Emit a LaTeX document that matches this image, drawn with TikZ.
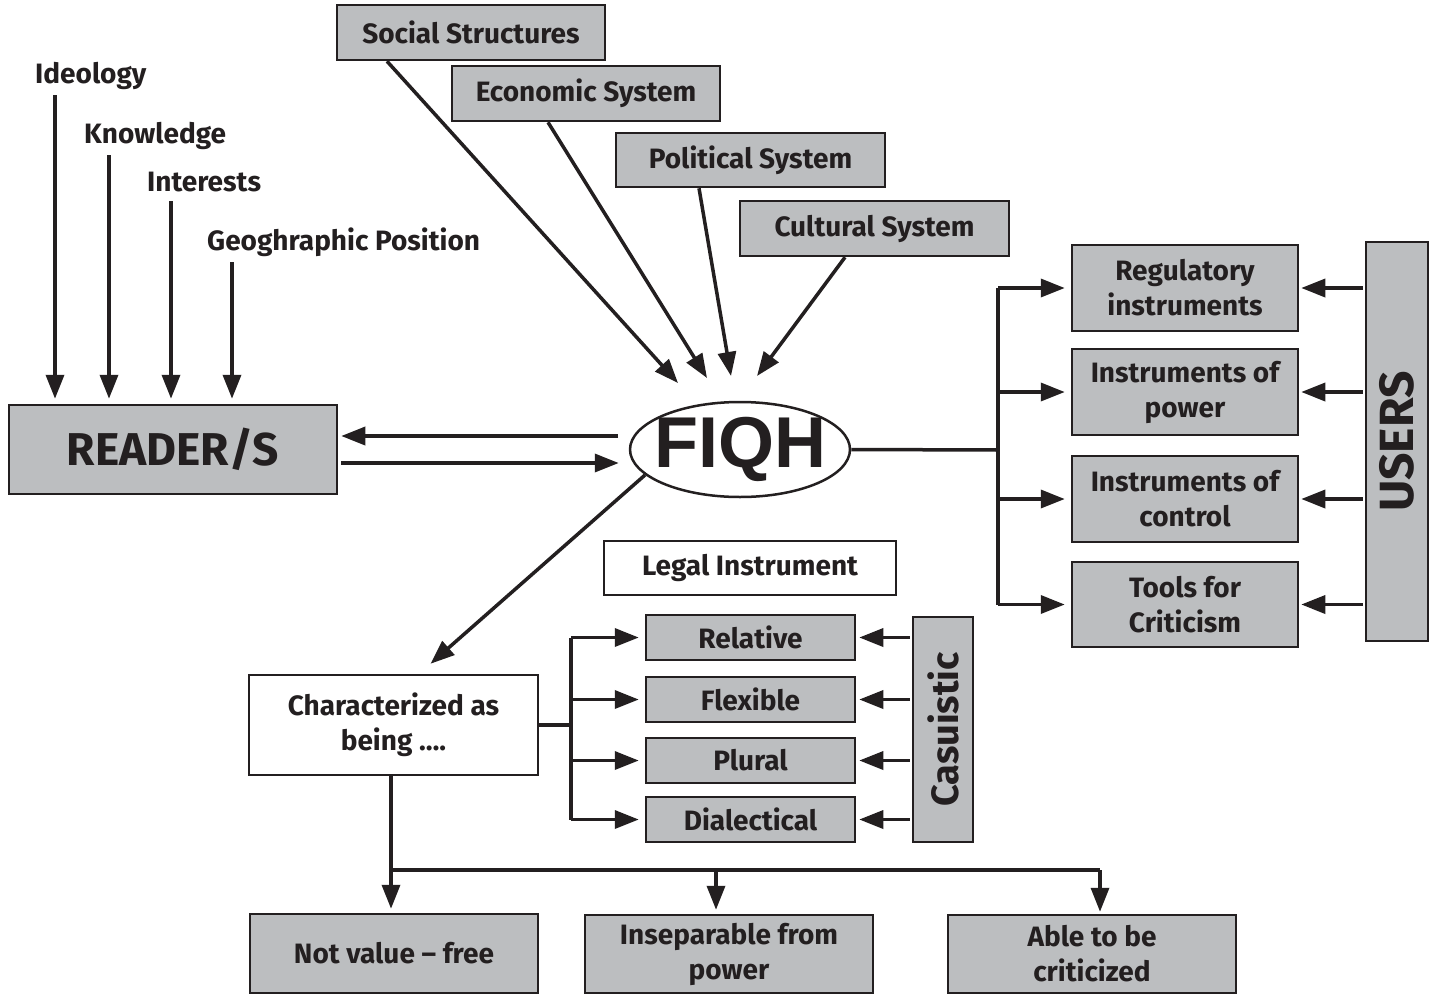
\documentclass[tikz,border=0pt]{standalone}
\usepackage{fontspec}
\setmainfont{Fira Sans}
\newfontfamily\fiqhfont{Liberation Sans}
\usetikzlibrary{arrows.meta,shapes.geometric}
\definecolor{boxgray}{HTML}{BCBEC0}
\definecolor{ink}{HTML}{231F20}
\newcommand{\lbl}{\fontsize{28}{35}\selectfont\bfseries}
\begin{document}
\begin{tikzpicture}[x=1pt,y=-1pt,
  every node/.style={font=\lbl, text=ink},
  gbox/.style={draw=ink, line width=2.5pt, fill=boxgray, align=center, inner sep=0pt},
  wbox/.style={gbox, fill=white},
  conn/.style={draw=ink, line width=3.5pt, -{Triangle[length=24pt,width=18pt]}},
  plainln/.style={draw=ink, line width=3.5pt},
  lab/.style={anchor=west, inner sep=0pt}]
\useasboundingbox[fill=white] (0,0) rectangle (1429,996);

% left labels
\node[lab] (ideo) at (35,76) {Ideology};
\node[lab] (know) at (84,136) {Knowledge};
\node[lab] (inter) at (147,182) {Interests};
\node[lab] (geo) at (207,242) {Geoghraphic Position};

% reader
\node[gbox, minimum width=328, minimum height=89, font=\fontsize{46}{50}\selectfont\bfseries] (reader) at (173,449.5) {READER/S};

% fiqh
\node[ellipse, draw=ink, line width=2.5pt, minimum width=220, minimum height=95, inner sep=0pt] (fiqh) at (740,449.5) {};
\node[inner sep=0pt, font=\fiqhfont\fontsize{72}{72}\selectfont\bfseries] (fiqhtxt) at (fiqh.center) {FIQH};

% top boxes
\node[gbox, minimum width=268, minimum height=55] (ss) at (471,32.5) {Social Structures};
\node[gbox, minimum width=268, minimum height=55] (es) at (586,93.5) {Economic System};
\node[gbox, minimum width=269, minimum height=54] (ps) at (750.5,160) {Political System};
\node[gbox, minimum width=269, minimum height=55] (cs) at (874.5,228.5) {Cultural System};

% right boxes
\node[gbox, minimum width=226, minimum height=86] (r1) at (1185,288) {Regulatory\\instruments};
\node[gbox, minimum width=226, minimum height=86] (r2) at (1185,392) {Instruments of\\power};
\node[gbox, minimum width=226, minimum height=86] (r3) at (1185,499) {Instruments of\\control};
\node[gbox, minimum width=226, minimum height=85] (r4) at (1185,604.5) {Tools for\\Criticism};
\node[gbox, rotate=90, minimum width=399, minimum height=62, font=\fontsize{48}{50}\selectfont\bfseries] (users) at (1397,441.5) {USERS};

% legal instrument & characterized
\node[wbox, minimum width=292, minimum height=54] (legal) at (750,568) {Legal Instrument};
\node[wbox, minimum width=289, minimum height=100] (ch) at (393.5,725) {Characterized as\\being \char"2026.};

% middle boxes
\node[gbox, minimum width=209, minimum height=45] (rel) at (750.5,637.5) {Relative};
\node[gbox, minimum width=209, minimum height=45] (flex) at (750.5,699.5) {Flexible};
\node[gbox, minimum width=209, minimum height=45] (plur) at (750.5,760.5) {Plural};
\node[gbox, minimum width=209, minimum height=45] (dial) at (750.5,819.5) {Dialectical};
\node[gbox, rotate=90, minimum width=225, minimum height=60, font=\fontsize{38}{40}\selectfont\bfseries] (cas) at (943,729.5) {Casuistic};

% bottom boxes
\node[gbox, minimum width=288, minimum height=79] (b1) at (394,953.5) {Not value \char"2013{} free};
\node[gbox, minimum width=288, minimum height=78] (b2) at (729,954) {Inseparable from\\power};
\node[gbox, minimum width=288, minimum height=78] (b3) at (1092,954) {Able to be\\criticized};

% coordinates
\coordinate (i1) at (55,95);
\coordinate (i2) at (109,155);
\coordinate (i3) at (171,201);
\coordinate (i4) at (232,262);
\coordinate (u1) at (618,436);
\coordinate (u2) at (341,463);
\coordinate (t1) at (678,383);
\coordinate (t2) at (707,378);
\coordinate (t3) at (731,376);
\coordinate (t4) at (757,376);
\coordinate (rj) at (998,450);
\coordinate (mj) at (571,725);
\coordinate (bj1) at (391,870);
\coordinate (bj2) at (716,870);
\coordinate (bj3) at (1100,870);

% left arrows
\draw[conn, shorten >=5pt] (i1) -- (i1 |- reader.north);
\draw[conn, shorten >=5pt] (i2) -- (i2 |- reader.north);
\draw[conn, shorten >=5pt] (i3) -- (i3 |- reader.north);
\draw[conn, shorten >=5pt] (i4) -- (i4 |- reader.north);

% reader <-> fiqh
\draw[conn, shorten >=3pt] (u1) -- (u1 -| reader.east);
\draw[conn, shorten >=10pt] (u2) -- (u2 -| fiqh.west);

% top arrows
\draw[conn] ([xshift=-84pt]ss.south) -- (t1);
\draw[conn] ([xshift=-38pt]es.south) -- (t2);
\draw[conn] ([xshift=-51.5pt]ps.south) -- (t3);
\draw[conn] ([xshift=-29.5pt]cs.south) -- (t4);

% right side
\draw[plainln] (fiqh.east) -- (rj);
\draw[plainln] (rj |- r1.west) -- (rj |- r4.west);
\foreach \b in {r1,r2,r3,r4}{
  \draw[conn, shorten >=6pt] (rj |- \b.west) -- (\b.west);
  \draw[conn, shorten >=2pt, shorten <=2pt] (users.north |- \b.east) -- (\b.east);
}

% fiqh to characterized
\draw[conn] (fiqh.195) -- ([xshift=37pt,yshift=10pt]ch.north);

% middle
\draw[plainln] (ch.east) -- (mj);
\draw[plainln] (mj |- rel.west) -- (mj |- dial.west);
\foreach \b in {rel,flex,plur,dial}{
  \draw[conn, shorten >=6pt] (mj |- \b.west) -- (\b.west);
  \draw[conn, shorten >=3pt, shorten <=2pt] (cas.north |- \b.east) -- (\b.east);
}

% bottom
\draw[plainln] (bj1) -- (bj3);
\draw[conn, shorten >=4pt] (ch.south -| bj1) -- (bj1 |- b1.north);
\draw[conn, shorten >=4pt] (bj2) -- (bj2 |- b2.north);
\draw[conn, shorten >=2pt] (bj3) -- (bj3 |- b3.north);
\end{tikzpicture}
\end{document}
